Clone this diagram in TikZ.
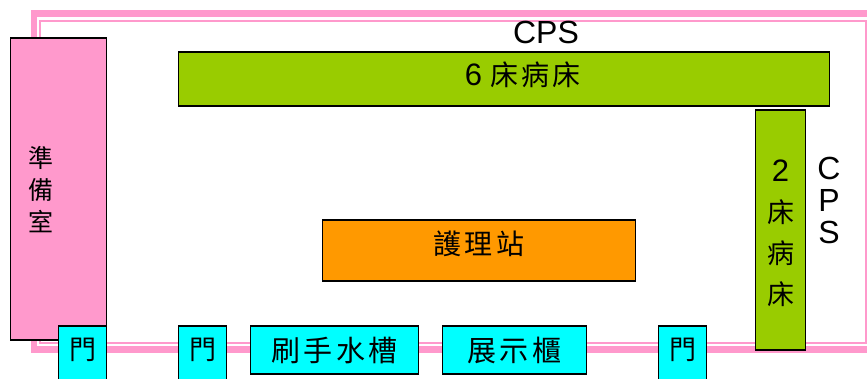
\documentclass[tikz,border=0pt]{standalone}
\usepackage{fontspec}
\setmainfont{Liberation Sans}
\newfontfamily\cjk{Noto Sans CJK TC}
\newfontfamily\cjkwide[LetterSpace=11]{Noto Sans CJK TC}
\definecolor{wallpink}{HTML}{FF99CC}
\definecolor{bedgreen}{HTML}{99CC00}
\definecolor{stationorange}{HTML}{FF9900}
\definecolor{fixcyan}{HTML}{00FFFF}
\tikzset{
  room/.style={draw=black, line width=1.7pt, inner sep=0pt, outer sep=0pt, anchor=north west, align=center, text=black, xshift=0.5pt, yshift=-0.3pt},
  doorbox/.style={room, fill=fixcyan, minimum width=48, minimum height=56, font=\cjk\fontsize{27}{30}\selectfont},
  fixbox/.style={room, fill=fixcyan, minimum height=48, font=\cjkwide\fontsize{29}{30}\selectfont},
  label/.style={inner sep=0pt, font=\fontsize{32}{32}\selectfont}
}
\begin{document}
\begin{tikzpicture}[x=1pt, y=-1pt]
   \useasboundingbox (0,0) rectangle (867,378);
   % walls
   \draw[wallpink, line width=6.5] (34,13.5) rectangle (880,349.5);
   \draw[wallpink, line width=1.8] (40,21) rectangle (866,343);

   \node[room, fill=wallpink, minimum width=96, minimum height=302] (prep) at (10,38) {};
   \node[inner sep=0pt, align=center, font=\cjk\fontsize{25}{32}\selectfont] (preptext) at (41,190) {準\\備\\室};
   \node[room, fill=bedgreen, minimum width=651, minimum height=54, font=\fontsize{31}{32}\selectfont] (bedsix) at (178,52) {\hspace*{38pt}\raisebox{11pt}{6 {\cjkwide\fontsize{28}{30}\selectfont 床病床}}};
   \node[room, fill=bedgreen, minimum width=50, minimum height=240, font=\cjk\fontsize{27}{41}\selectfont] (bedtwo) at (755,110) {\rule{0pt}{28pt}{\fontspec{Liberation Sans}\fontsize{31}{41}\selectfont 2}\\床\\病\\床};
   \node[room, fill=stationorange, minimum width=313, minimum height=61, font=\cjkwide\fontsize{28}{30}\selectfont] (station) at (322,220) {\raisebox{16pt}{護理站}};

   \node[doorbox] (doora) at (58,326) {\raisebox{12pt}{門}};
   \node[doorbox] (doorb) at (178,326) {\raisebox{12pt}{門}};
   \node[doorbox] (doorc) at (658,326) {\raisebox{12pt}{門}};
   \node[fixbox, minimum width=168] (sink) at (250,326) {\raisebox{1pt}{刷手水槽}};
   \node[fixbox, minimum width=144] (cabinet) at (442,326) {\raisebox{1pt}{展示櫃}};

   \node[label] (cpstop) at (546,32) {CPS};
   \node[label, align=center] (cpsright) at (829,200) {C\\P\\S};
\end{tikzpicture}
\end{document}
